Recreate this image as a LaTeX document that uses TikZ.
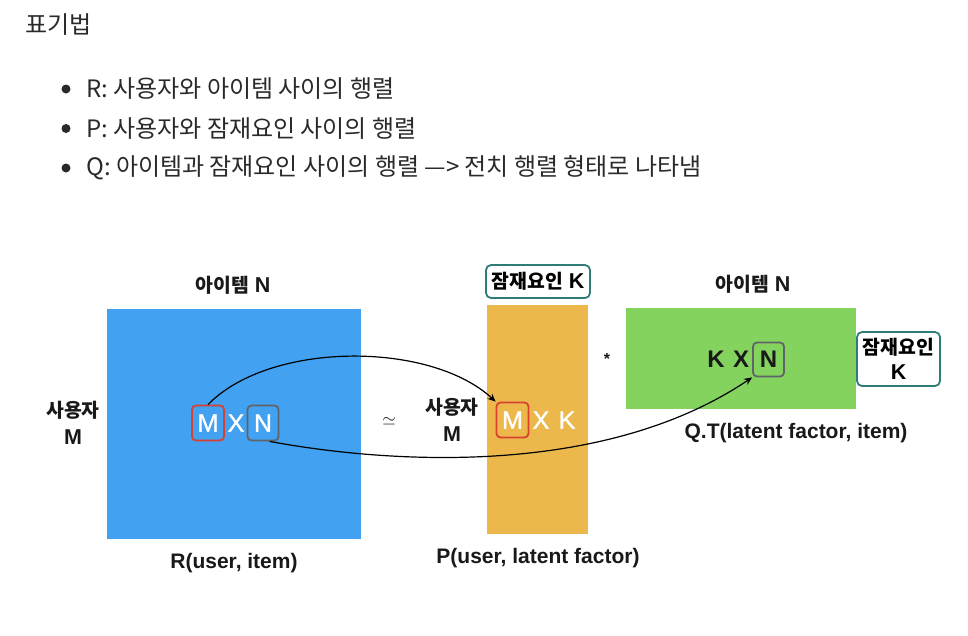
\documentclass[tikz,border=0pt]{standalone}
\usepackage{fontspec}
\setmainfont{Liberation Sans}
\newfontfamily\kr{Noto Sans CJK KR}
\newfontfamily\krb[Scale=0.9]{Noto Sans CJK KR}
\newfontfamily\medfont[FakeBold=1.2]{Liberation Sans}
\newcommand\kor[1]{{\krb #1}}
\usetikzlibrary{arrows.meta}
\definecolor{txt}{HTML}{2A2A2A}
\definecolor{blueM}{HTML}{42A1F0}
\definecolor{orangeM}{HTML}{EDB84B}
\definecolor{greenM}{HTML}{85D35F}
\definecolor{redB}{HTML}{D9402F}
\definecolor{grayB}{HTML}{606468}
\definecolor{tealB}{HTML}{2F7D77}
\begin{document}
\begin{tikzpicture}[x=1pt,y=-1pt,
  toptext/.style={anchor=west, inner sep=0, text=txt, font=\kr\fontsize{24}{28}\selectfont},
  bulletdot/.style={circle, fill=txt, inner sep=0, minimum size=9},
  mat/.style={anchor=north west, inner sep=0, draw=none},
  lbl/.style={inner sep=0, text=black!90, font=\bfseries\fontsize{21.5}{27}\selectfont, align=center},
  captext/.style={inner sep=0, text=black!90, font=\bfseries\fontsize{21}{24}\selectfont},
  dimbox/.style={draw=#1, line width=1.8, rounded corners=4, inner sep=0, minimum width=32, minimum height=35},
  wl/.style={inner sep=0, font=\medfont\fontsize{25}{26}\selectfont, text=white},
  bl/.style={inner sep=0, font=\bfseries\fontsize{24}{26}\selectfont, text=black!90},
  tealbox/.style={draw=tealB, line width=1.8, rounded corners=5, fill=white, inner sep=0, align=center, font=\bfseries\fontsize{21.5}{25}\selectfont},
  link/.style={draw=black, line width=1.2, -{Stealth[length=8,width=7]}}
]
\useasboundingbox (0,0) rectangle (968,635);

% top text
\node[toptext] (title) at (25,25) {표기법};
\node[bulletdot] (d1) at (66,89) {};
\node[bulletdot] (d2) at (66,128.5) {};
\node[bulletdot] (d3) at (66,168) {};
\node[toptext] (l1) at (86,89) {R: 사용자와 아이템 사이의 행렬};
\node[toptext] (l2) at (86,128.5) {P: 사용자와 잠재요인 사이의 행렬};
\node[toptext] (l3) at (86,168) {Q: 아이템과 잠재요인 사이의 행렬 —> 전치 행렬 형태로 나타냄};

% matrices
\node[mat, fill=blueM, minimum width=254, minimum height=230] (R) at (107,309) {};
\node[mat, fill=orangeM, minimum width=101, minimum height=229] (P) at (487,305) {};
\node[mat, fill=greenM, minimum width=230, minimum height=101] (Q) at (626,308) {};

% labels
\node[lbl] (rtop) at (233,285) {\kor{아이템} N};
\node[lbl] (rleft) at (73,423) {\kor{사용자}\\M};
\node[captext] (rcap) at (234,563) {R(user, item)};
\node[lbl, font=\fontsize{18}{20}\selectfont] (approx) at (389,421) {$\simeq$};
\node[lbl] (pleft) at (452,420) {\kor{사용자}\\M};
\node[tealbox, minimum width=104, minimum height=33] (pk) at (538,281.5) {\kor{잠재요인} K};
\node[captext] (pcap) at (538,558) {P(user, latent factor)};
\node[lbl, font=\bfseries\fontsize{16}{18}\selectfont] (star) at (607,359) {*};
\node[lbl] (qtop) at (753,284) {\kor{아이템} N};
\node[tealbox, minimum width=83, minimum height=54] (qk) at (898.5,359) {\kor{잠재요인}\\K};
\node[captext] (qcap) at (796,433) {Q.T(latent factor, item)};

% dims in R
\node[dimbox=redB, wl] (Mr) at (208,423) {M};
\node[wl] (xr) at (236,423) {X};
\node[dimbox=grayB, wl, minimum width=31] (Nr) at (263,423) {N};
% dims in P
\node[dimbox=redB, wl] (Mp) at (512.5,420) {M};
\node[wl] (xp) at (541,420) {X};
\node[wl] (kp) at (567,420) {K};
% dims in Q
\node[bl] (kq) at (716,359.5) {K};
\node[bl] (xq) at (741,359.5) {X};
\node[dimbox=grayB, bl, minimum width=31, minimum height=34] (Nq) at (768.5,359.5) {N};

% connectors
\draw[link] (Mr.north) .. controls (270,341) and (430,341) .. (Mp.north west);
\draw[link] (Nr.-70) .. controls (380,462) and (600,480) .. (Nq.south west);
\end{tikzpicture}
\end{document}
